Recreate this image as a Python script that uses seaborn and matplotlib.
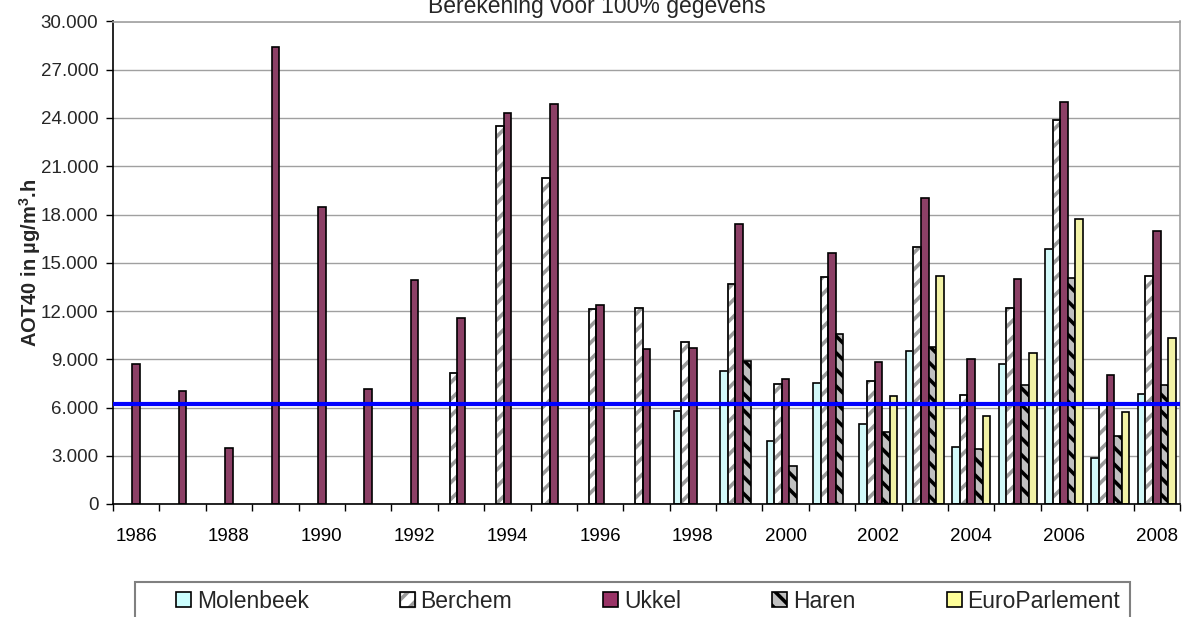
import matplotlib
matplotlib.use("Agg")
import matplotlib.pyplot as plt
import matplotlib.patches as mpatches
from matplotlib.legend_handler import HandlerTuple
import numpy as np
import pandas as pd
import seaborn as sns

years = [str(y) for y in range(1986, 2009)]
stations = ["Molenbeek", "Berchem", "Ukkel", "Haren", "EuroParlement"]
nan = np.nan

molenbeek = [nan, nan, nan, nan, nan, nan, nan, nan, nan, nan, nan, nan,
             5800, 8250, 3900, 7500, 4950, 9500, 3550, 8700, 15850, 2850, 6850]
berchem = [nan, nan, nan, nan, nan, nan, nan, 8150, 23500, 20300, 12150, 12200,
           10050, 13650, 7450, 14100, 7650, 15950, 6750, 12200, 23850, 6150, 14200]
ukkel = [8700, 7000, 3500, 28400, 18450, 7150, 13900, 11550, 24300, 24850, 12350, 9650,
         9700, 17400, 7750, 15600, 8800, 19000, 9000, 14000, 25000, 8050, 17000]
haren = [nan, nan, nan, nan, nan, nan, nan, nan, nan, nan, nan, nan,
         nan, 8900, 2350, 10550, 4500, 9750, 3450, 7400, 14050, 4200, 7400]
europarlement = [nan, nan, nan, nan, nan, nan, nan, nan, nan, nan, nan, nan,
                 nan, nan, nan, nan, 6700, 14150, 5450, 9400, 17700, 5700, 10350]
target = 6200

colors = {"Molenbeek": "#CCFFFF", "Berchem": "#FFFFFF", "Ukkel": "#993366",
          "Haren": "#C0C0C0", "EuroParlement": "#FFFF99"}

rows = []
for name, vals in zip(stations, [molenbeek, berchem, ukkel, haren, europarlement]):
    for y, v in zip(years, vals):
        rows.append([y, name, v])
df = pd.DataFrame(rows, columns=["year", "station", "value"])

sns.set_theme(style="white")
plt.rcParams["font.family"] = ["Liberation Sans", "DejaVu Sans"]
plt.rcParams["mathtext.fontset"] = "custom"
plt.rcParams["mathtext.rm"] = "Liberation Sans"
plt.rcParams["mathtext.bf"] = "Liberation Sans:bold"
plt.rcParams["hatch.linewidth"] = 2.6

fig = plt.figure(figsize=(11.82, 6.17), dpi=100)
ax = fig.add_axes([113 / 1182, 1 - 504 / 617, 1067 / 1182, 482.5 / 617])

sns.barplot(data=df, x="year", y="value", hue="station", order=years,
            hue_order=stations, palette=colors, width=0.82, edgecolor="black",
            linewidth=1.2, ax=ax, legend=False, errorbar=None)

# hatches: Berchem gray stripes, Haren black stripes
for name, cont in zip(stations, ax.containers):
    for p in cont.patches:
        if name == "Berchem":
            p.set_hatch("//")
            p.set_edgecolor("#9A9A9A")
            if np.isfinite(p.get_height()):
                r = mpatches.Rectangle(p.get_xy(), p.get_width(), p.get_height(),
                                       facecolor="none", edgecolor="black",
                                       linewidth=1.2, zorder=p.get_zorder() + 0.1)
                ax.add_patch(r)
        elif name == "Haren":
            p.set_hatch("\\\\")

ax.axhline(target, color="#0000FF", lw=3, zorder=5)

ax.set_ylim(0, 30000)
ax.set_xlim(-0.5, len(years) - 0.5)
ax.set_yticks(np.arange(0, 30001, 3000))
ax.set_yticklabels([f"{v:,.0f}".replace(",", ".") for v in np.arange(0, 30001, 3000)])
ax.set_xticks(np.arange(0, len(years), 2))
ax.set_xticklabels(years[::2])
ax.set_xticks(np.arange(-0.5, len(years), 1), minor=True)
ax.tick_params(axis="x", which="major", length=0, pad=17, labelsize=13.5, colors="black")
ax.tick_params(axis="x", which="minor", length=5, width=1, color="black", direction="out", bottom=True)
ax.tick_params(axis="y", length=5, width=1, color="black", direction="out", left=True,
               pad=5.5, labelsize=13.5)
ax.yaxis.grid(True, color="#A0A0A0", lw=1)
ax.set_axisbelow(True)
for s in ["left", "bottom"]:
    ax.spines[s].set_color("black")
    ax.spines[s].set_linewidth(1.2)
for s in ["top", "right"]:
    ax.spines[s].set_color("#A0A0A0")
    ax.spines[s].set_linewidth(1.2)

ax.set_xlabel("")
ax.set_ylabel(r"AOT40 in µg/m$^\mathbf{3}$.h", fontsize=14.5, fontweight="bold")
ax.yaxis.set_label_coords(-0.066, 0.5)

fig.text(0.505, 1 - 13 / 617, "Berekening voor 100% gegevens", ha="center",
         va="baseline", fontsize=16.5)

handles = []
for name in stations:
    if name == "Berchem":
        h = (mpatches.Patch(facecolor="white", edgecolor="#9A9A9A", hatch="//"),
             mpatches.Patch(facecolor="none", edgecolor="black", linewidth=1.2))
    elif name == "Haren":
        h = mpatches.Patch(facecolor=colors[name], edgecolor="black", hatch="\\\\", linewidth=1.2)
    else:
        h = mpatches.Patch(facecolor=colors[name], edgecolor="black", linewidth=1.2)
    handles.append(h)

# legend box (frame drawn separately, entries sit a little to the right as in Excel)
frame = mpatches.Rectangle((135 / 1182, -0.05), 995 / 1182, 1 - 581.5 / 617 + 0.05,
                           transform=fig.transFigure, facecolor="white",
                           edgecolor="#808080", linewidth=1.5)
fig.patches.append(frame)
leg = fig.legend(handles, stations, loc="upper left",
                 bbox_to_anchor=(168 / 1182, 0, 960 / 1182, 1 - 581.5 / 617),
                 mode="expand", ncol=5, fontsize=16.5, frameon=False,
                 borderpad=0.35, handlelength=0.65, handleheight=0.65,
                 handletextpad=0.25, borderaxespad=0,
                 handler_map={tuple: HandlerTuple(ndivide=1)})

fig.savefig("out.png", dpi=100)
